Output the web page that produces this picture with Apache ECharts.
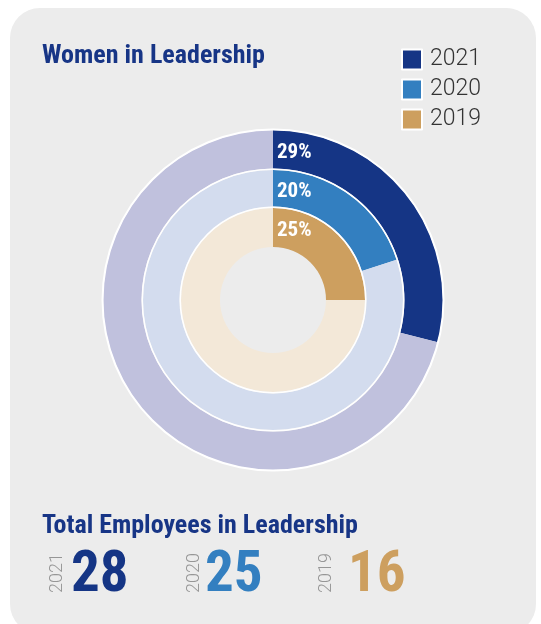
<!DOCTYPE html>
<html>
<head>
<meta charset="utf-8">
<script src="https://cdn.jsdelivr.net/npm/echarts@6/dist/echarts.min.js"></script>
<style>
  html, body { margin: 0; padding: 0; background: #ffffff; width: 541px; height: 624px; overflow: hidden; }
  #card { position: absolute; left: 10px; top: 8px; width: 526px; height: 626px; border-radius: 30px; background: #ececec; }
  #chart { position: absolute; left: 0; top: 0; width: 541px; height: 624px; }
</style>
</head>
<body>
<div id="card"></div>
<div id="chart"></div>
<script>
// Share of women in leadership roles, by year (outer ring = most recent)
const years = ['2021', '2020', '2019'];
const womenPct = [29, 20, 25];
// Headcount of employees in leadership, by year
const totalLeaders = [28, 25, 16];

const yearColors = ['#153585', '#337fc0', '#cd9f5f'];
const restColors = ['#c0c1dd', '#d3dcee', '#f3e8d8'];
const titleColor = '#173586';
const condensed = '"Liberation Sans Narrow", "Roboto Condensed", "DejaVu Sans Condensed", Roboto, sans-serif';

const cx = 273, cy = 300;
const ringRadii = [[131.5, 170], [93.5, 130], [53, 92]];
const separatorRadii = [[169.5, 171.5], [130, 131.5], [92, 93.5]];

const series = [];
years.forEach(function (y, i) {
  series.push({
    type: 'pie',
    name: 'ring-' + y,
    center: [cx, cy],
    radius: ringRadii[i],
    startAngle: 90,
    clockwise: true,
    silent: true,
    label: { show: false },
    labelLine: { show: false },
    emphasis: { disabled: true },
    data: [
      { name: y, value: womenPct[i], itemStyle: { color: yearColors[i] } },
      { name: 'other-' + y, value: 100 - womenPct[i], itemStyle: { color: restColors[i] } }
    ]
  });
});
// thin white rings between the year bands
separatorRadii.forEach(function (r, i) {
  series.push({
    type: 'pie',
    name: 'sep-' + i,
    center: [cx, cy],
    radius: r,
    silent: true,
    label: { show: false },
    labelLine: { show: false },
    emphasis: { disabled: true },
    data: [{ name: 'sep', value: 1, itemStyle: { color: '#ffffff' } }]
  });
});

const graphics = [];
// percentage labels at the start of each highlighted arc
years.forEach(function (y, i) {
  const mid = (ringRadii[i][0] + ringRadii[i][1]) / 2;
  graphics.push({
    type: 'text',
    x: cx + 4,
    y: cy - mid + 3,
    z: 100,
    silent: true,
    style: {
      text: womenPct[i] + '%',
      fill: '#ffffff',
      font: 'bold 21px ' + condensed,
      textAlign: 'left',
      textVerticalAlign: 'middle'
    }
  });
});
// headcount figures with rotated year captions
const figureX = [[57.5, 71], [194, 205], [326, 348]];
years.forEach(function (y, i) {
  graphics.push({
    type: 'text',
    x: figureX[i][0],
    y: 573,
    rotation: Math.PI / 2,
    z: 100,
    silent: true,
    style: {
      text: y,
      fill: '#969696',
      font: '300 18px Roboto, sans-serif',
      textAlign: 'center',
      textVerticalAlign: 'middle'
    }
  });
  graphics.push({
    type: 'text',
    x: figureX[i][1],
    y: 577,
    z: 100,
    silent: true,
    style: {
      text: String(totalLeaders[i]),
      fill: yearColors[i],
      font: 'bold 57px ' + condensed,
      textAlign: 'left',
      textVerticalAlign: 'middle'
    }
  });
});

const chart = echarts.init(document.getElementById('chart'), null, { renderer: 'canvas' });
chart.setOption({
  backgroundColor: 'transparent',
  animation: false,
  title: [
    {
      text: 'Women in Leadership',
      left: 37, top: 38,
      textStyle: { color: titleColor, fontFamily: condensed, fontWeight: 'bold', fontSize: 26 }
    },
    {
      text: 'Total Employees in Leadership',
      left: 37, top: 508,
      textStyle: { color: titleColor, fontFamily: condensed, fontWeight: 'bold', fontSize: 26 }
    }
  ],
  legend: {
    data: years,
    orient: 'vertical',
    left: 396, top: 43,
    icon: 'rect',
    itemWidth: 20, itemHeight: 20,
    itemGap: 7,
    selectedMode: false,
    itemStyle: { borderColor: '#ffffff', borderWidth: 2 },
    textStyle: { color: '#333333', fontFamily: 'Roboto, sans-serif', fontWeight: 300, fontSize: 23, padding: [0, 0, 0, 3] }
  },
  series: series,
  graphic: graphics
});
</script>
</body>
</html>
